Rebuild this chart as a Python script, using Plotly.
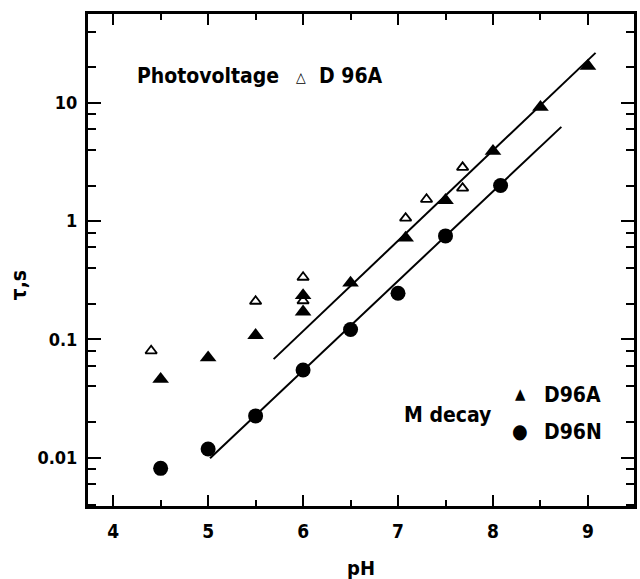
import plotly.graph_objects as go

# ---- data ----
ph_md_d96a = [4.5, 5.0, 5.5, 6.0, 6.0, 6.5, 7.08, 7.5, 8.0, 8.5, 9.0]
tau_md_d96a = [0.046, 0.070, 0.108, 0.235, 0.171, 0.30, 0.72, 1.5, 3.9, 9.2, 20.5]

ph_pv_d96a = [4.4, 5.5, 6.0, 6.0, 7.08, 7.3, 7.68, 7.68]
tau_pv_d96a = [0.080, 0.21, 0.335, 0.212, 1.06, 1.53, 2.85, 1.9]

ph_md_d96n = [4.5, 5.0, 5.5, 6.0, 6.5, 7.0, 7.5, 8.08]
tau_md_d96n = [0.0081, 0.0118, 0.0225, 0.055, 0.121, 0.245, 0.75, 2.0]

fit_d96a_ph = [5.69, 9.08]
fit_d96a_tau = [0.068, 26.5]
fit_d96n_ph = [5.02, 8.72]
fit_d96n_tau = [0.00986, 6.27]

x_ticks = [4, 5, 6, 7, 8, 9]
y_ticks = [0.01, 0.1, 1, 10]
y_ticklabels = ["0.01", "0.1", "1", "10"]
y_minor = [m * 10.0 ** e for e in range(-3, 2) for m in (2, 4, 6, 8)]

FONT = "DejaVu Sans Condensed, DejaVu Sans"
BLACK = "#000000"

fig = go.Figure()

fig.add_trace(go.Scatter(x=fit_d96a_ph, y=fit_d96a_tau, mode="lines",
                         line=dict(color=BLACK, width=2), showlegend=False))
fig.add_trace(go.Scatter(x=fit_d96n_ph, y=fit_d96n_tau, mode="lines",
                         line=dict(color=BLACK, width=2), showlegend=False))
fig.add_trace(go.Scatter(x=ph_pv_d96a, y=tau_pv_d96a, mode="markers",
                         marker=dict(symbol="triangle-up-open", size=10, color=BLACK,
                                     line=dict(width=1.8, color=BLACK)),
                         showlegend=False))
fig.add_trace(go.Scatter(x=ph_md_d96a, y=tau_md_d96a, mode="markers",
                         marker=dict(symbol="triangle-up", size=14.5, color=BLACK,
                                     line=dict(width=0)),
                         showlegend=False))
fig.add_trace(go.Scatter(x=ph_md_d96n, y=tau_md_d96n, mode="markers",
                         marker=dict(symbol="circle", size=15, color=BLACK,
                                     line=dict(width=0)),
                         showlegend=False))

W, H = 640, 579
# plot frame in page pixels: x 88..637, y 14..506
L, T = 88, 14
R = W - 637
B = H - 506
pw, ph_ = W - L - R, H - T - B


def px(x):
    return (x - L) / pw


def py(y):
    return (H - B - y) / ph_


ann = []


def text(s, x, y, size=21, xanchor="left", weight="bold"):
    ann.append(dict(text=s, x=px(x), y=py(y), xref="paper", yref="paper",
                    xanchor=xanchor, yanchor="middle", showarrow=False,
                    font=dict(family=FONT, size=size, color=BLACK, weight=weight)))


text("Photovoltage", 135, 76)
text("\u25B3", 301.7, 77, size=14, xanchor="center", weight="bold")
text("D 96A", 318, 76)
text("M decay", 404, 415)
text("\u25B2", 522.7, 394, size=15, xanchor="center", weight="normal")
text("D96A", 544, 395)
text("\u25CF", 522.7, 431, size=20, xanchor="center", weight="normal")
text("D96N", 544, 432)

ann.append(dict(text="\u03C4,s", x=px(19), y=py(285), xref="paper", yref="paper",
                xanchor="center", yanchor="middle", showarrow=False, textangle=-90,
                font=dict(family=FONT, size=21, color=BLACK, weight="bold")))
ann.append(dict(text="pH", x=px(363), y=py(568), xref="paper", yref="paper",
                xanchor="center", yanchor="middle", showarrow=False,
                font=dict(family=FONT, size=20, color=BLACK, weight="bold")))

fig.update_layout(
    width=W, height=H,
    margin=dict(l=L, r=R, t=T, b=B, pad=0),
    paper_bgcolor="white", plot_bgcolor="white",
    font=dict(family=FONT, color=BLACK),
    annotations=ann,
    showlegend=False,
)

fig.update_xaxes(
    range=[3.735, 9.485], tickmode="array", tickvals=x_ticks,
    ticks="inside", ticklen=11, tickwidth=2, tickcolor=BLACK,
    minor=dict(dtick=0.5, tick0=4, ticks="inside", ticklen=6, tickwidth=2, tickcolor=BLACK),
    showline=True, linewidth=3, linecolor=BLACK, mirror="ticks",
    showgrid=False, zeroline=False,
    tickfont=dict(family=FONT, size=19, color=BLACK, weight="bold"),
    ticklabelstandoff=6,
)
fig.update_yaxes(
    type="log", range=[-2.41, 1.752], tickmode="array",
    tickvals=y_ticks, ticktext=y_ticklabels,
    ticks="inside", ticklen=13, tickwidth=2, tickcolor=BLACK,
    minor=dict(tickmode="array", tickvals=y_minor, ticks="inside", ticklen=8,
               tickwidth=2, tickcolor=BLACK),
    showline=True, linewidth=3, linecolor=BLACK, mirror="ticks",
    showgrid=False, zeroline=False,
    tickfont=dict(family=FONT, size=18, color=BLACK, weight="bold"),
    ticklabelstandoff=4,
)

fig.write_html(
    "out.html",
    config={"displayModeBar": False},
    post_script="document.body.style.margin='0';document.body.style.overflow='hidden';",
)
